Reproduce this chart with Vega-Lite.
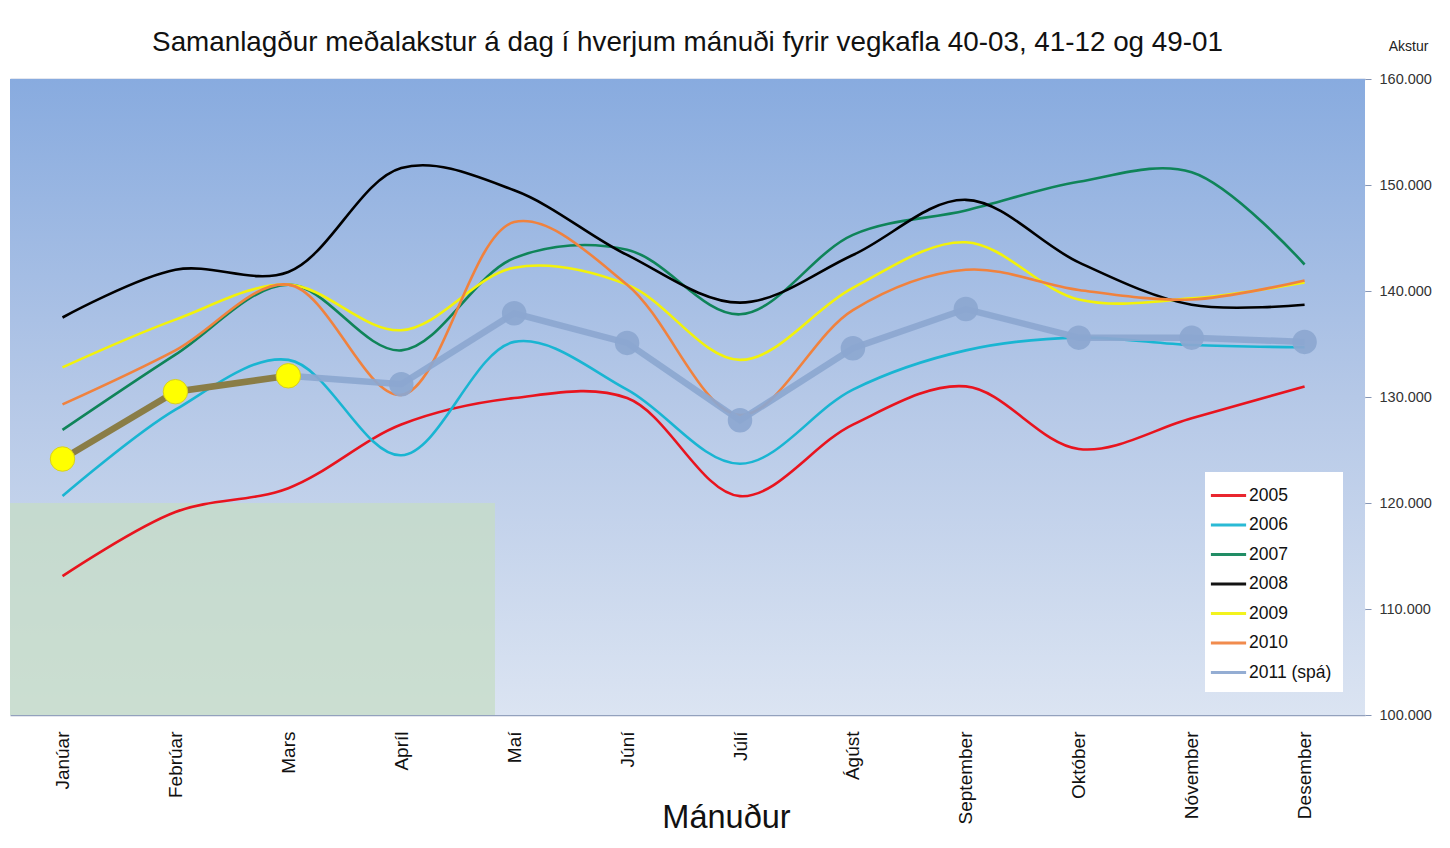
{
  "$schema": "https://vega.github.io/schema/vega-lite/v6.json",
  "width": 1355,
  "height": 636,
  "autosize": {"type": "none"},
  "padding": {"left": 10, "top": 79, "right": 85, "bottom": 133},
  "background": "white",
  "title": {
    "text": "Samanlagður meðalakstur á dag í hverjum mánuði fyrir vegkafla 40-03, 41-12 og 49-01",
    "fontSize": 27.8,
    "font": "Liberation Sans",
    "fontWeight": "normal",
    "color": "#111111",
    "anchor": "middle",
    "offset": -18
  },
  "config": {
    "view": {"stroke": null},
    "font": "Liberation Sans"
  },
  "datasets": {
    "bg": [{"lo": 100000, "hi": 160000}],
    "green": [{"x1": 0.535, "x2": 4.83, "lo": 100000, "hi": 120000}],
    "years": [
      {"m": 1, "s": "2005", "v": 113100}, {"m": 2, "s": "2005", "v": 119150}, {"m": 3, "s": "2005", "v": 121400},
      {"m": 4, "s": "2005", "v": 127400}, {"m": 5, "s": "2005", "v": 129900}, {"m": 6, "s": "2005", "v": 129900},
      {"m": 7, "s": "2005", "v": 120650}, {"m": 8, "s": "2005", "v": 127400}, {"m": 9, "s": "2005", "v": 131000},
      {"m": 10, "s": "2005", "v": 125100}, {"m": 11, "s": "2005", "v": 128000}, {"m": 12, "s": "2005", "v": 131000},
      {"m": 1, "s": "2006", "v": 120650}, {"m": 2, "s": "2006", "v": 128800}, {"m": 3, "s": "2006", "v": 133500},
      {"m": 4, "s": "2006", "v": 124500}, {"m": 5, "s": "2006", "v": 135200}, {"m": 6, "s": "2006", "v": 130700},
      {"m": 7, "s": "2006", "v": 123700}, {"m": 8, "s": "2006", "v": 130700}, {"m": 9, "s": "2006", "v": 134400},
      {"m": 10, "s": "2006", "v": 135600}, {"m": 11, "s": "2006", "v": 134900}, {"m": 12, "s": "2006", "v": 134700},
      {"m": 1, "s": "2007", "v": 126900}, {"m": 2, "s": "2007", "v": 134000}, {"m": 3, "s": "2007", "v": 140600},
      {"m": 4, "s": "2007", "v": 134400}, {"m": 5, "s": "2007", "v": 143100}, {"m": 6, "s": "2007", "v": 143900},
      {"m": 7, "s": "2007", "v": 137800}, {"m": 8, "s": "2007", "v": 145300}, {"m": 9, "s": "2007", "v": 147600},
      {"m": 10, "s": "2007", "v": 150300}, {"m": 11, "s": "2007", "v": 151200}, {"m": 12, "s": "2007", "v": 142500},
      {"m": 1, "s": "2008", "v": 137500}, {"m": 2, "s": "2008", "v": 142000}, {"m": 3, "s": "2008", "v": 141800},
      {"m": 4, "s": "2008", "v": 151600}, {"m": 5, "s": "2008", "v": 149500}, {"m": 6, "s": "2008", "v": 143400},
      {"m": 7, "s": "2008", "v": 138900}, {"m": 8, "s": "2008", "v": 143400}, {"m": 9, "s": "2008", "v": 148600},
      {"m": 10, "s": "2008", "v": 142700}, {"m": 11, "s": "2008", "v": 138700}, {"m": 12, "s": "2008", "v": 138700},
      {"m": 1, "s": "2009", "v": 132800}, {"m": 2, "s": "2009", "v": 137300}, {"m": 3, "s": "2009", "v": 140600},
      {"m": 4, "s": "2009", "v": 136300}, {"m": 5, "s": "2009", "v": 142200}, {"m": 6, "s": "2009", "v": 140600},
      {"m": 7, "s": "2009", "v": 133500}, {"m": 8, "s": "2009", "v": 140300}, {"m": 9, "s": "2009", "v": 144600},
      {"m": 10, "s": "2009", "v": 139200}, {"m": 11, "s": "2009", "v": 139300}, {"m": 12, "s": "2009", "v": 140800},
      {"m": 1, "s": "2010", "v": 129300}, {"m": 2, "s": "2010", "v": 134400}, {"m": 3, "s": "2010", "v": 140600},
      {"m": 4, "s": "2010", "v": 130200}, {"m": 5, "s": "2010", "v": 146500}, {"m": 6, "s": "2010", "v": 140600},
      {"m": 7, "s": "2010", "v": 128300}, {"m": 8, "s": "2010", "v": 138200}, {"m": 9, "s": "2010", "v": 142000},
      {"m": 10, "s": "2010", "v": 140100}, {"m": 11, "s": "2010", "v": 139200}, {"m": 12, "s": "2010", "v": 141000}
    ],
    "forecast": [
      {"m": 3, "s": "2011 (spá)", "v": 132000}, {"m": 4, "s": "2011 (spá)", "v": 131200},
      {"m": 5, "s": "2011 (spá)", "v": 137900}, {"m": 6, "s": "2011 (spá)", "v": 135100},
      {"m": 7, "s": "2011 (spá)", "v": 127800}, {"m": 8, "s": "2011 (spá)", "v": 134600},
      {"m": 9, "s": "2011 (spá)", "v": 138300}, {"m": 10, "s": "2011 (spá)", "v": 135600},
      {"m": 11, "s": "2011 (spá)", "v": 135600}, {"m": 12, "s": "2011 (spá)", "v": 135200}
    ],
    "actual": [
      {"m": 1, "v": 124150}, {"m": 2, "v": 130500}, {"m": 3, "v": 132000}
    ]
  },
  "layer": [
    {
      "data": {"name": "bg"},
      "mark": {
        "type": "rect",
        "color": {
          "gradient": "linear", "x1": 0, "y1": 0, "x2": 0, "y2": 1,
          "stops": [
            {"offset": 0, "color": "#88abdf"},
            {"offset": 0.5, "color": "#b5c8e7"},
            {"offset": 1, "color": "#dbe4f2"}
          ]
        }
      },
      "encoding": {
        "y": {"field": "lo", "type": "quantitative", "scale": {"domain": [100000, 160000], "nice": false, "zero": false},
          "axis": {
            "orient": "right",
            "values": [100000, 110000, 120000, 130000, 140000, 150000, 160000],
            "labelExpr": "replace(format(datum.value, ','), ',', '.')",
            "labelFontSize": 14.5,
            "labelColor": "#333333",
            "labelPadding": 8,
            "tickSize": 6,
            "tickColor": "#8595b5",
            "domain": false,
            "grid": true,
            "gridColor": "#7889ad",
            "gridWidth": 1.5,
            "gridOpacity": 0.8,
            "title": "Akstur",
            "titleFontSize": 14,
            "titleFontWeight": "normal",
            "titleColor": "#222222",
            "titleAngle": 0,
            "titleX": 43,
            "titleY": -33,
            "titleAlign": "center",
            "titleBaseline": "middle"
          }
        },
        "y2": {"field": "hi"}
      }
    },
    {
      "data": {"name": "green"},
      "mark": {"type": "rect", "color": "#c6dcc6", "opacity": 0.75},
      "encoding": {
        "x": {"field": "x1", "type": "quantitative"},
        "x2": {"field": "x2"},
        "y": {"field": "lo", "type": "quantitative"},
        "y2": {"field": "hi"}
      }
    },
    {
      "data": {"name": "years"},
      "mark": {"type": "line", "interpolate": "catmull-rom", "strokeWidth": 2.6},
      "encoding": {
        "x": {"field": "m", "type": "quantitative",
          "scale": {"domain": [0.535, 12.535], "nice": false, "zero": false},
          "axis": {
            "values": [1, 2, 3, 4, 5, 6, 7, 8, 9, 10, 11, 12],
            "labelExpr": "['Janúar','Febrúar','Mars','Apríl','Maí','Júní','Júlí','Ágúst','September','Október','Nóvember','Desember'][datum.value - 1]",
            "labelAngle": -90,
            "labelFontSize": 19,
            "labelColor": "#111111",
            "labelPadding": 16,
            "ticks": false,
            "domain": false,
            "grid": false,
            "title": "Mánuður",
            "titleFontSize": 32.5,
            "titleFontWeight": "normal",
            "titleColor": "#111111",
            "titleX": 716,
            "titleY": 112,
            "titleAlign": "center",
            "titleBaseline": "alphabetic"
          }
        },
        "y": {"field": "v", "type": "quantitative"},
        "color": {
          "field": "s", "type": "nominal",
          "scale": {
            "domain": ["2005", "2006", "2007", "2008", "2009", "2010", "2011 (spá)"],
            "range": ["#e8141e", "#19b5d2", "#0f8459", "#000000", "#f2f20a", "#f0823e", "#8ca7d0"]
          },
          "legend": {
            "title": null,
            "orient": "none",
            "legendX": 1195,
            "legendY": 393,
            "fillColor": "white",
            "padding": 11,
            "symbolType": "M-1.6,0H1.6",
            "symbolStrokeWidth": 3,
            "symbolSize": 484,
            "labelFontSize": 17.5,
            "labelColor": "#111111",
            "labelOffset": 8,
            "rowPadding": 8.5,
            "symbolOpacity": 1
          }
        }
      }
    },
    {
      "data": {"name": "forecast"},
      "mark": {"type": "line", "strokeWidth": 6.5, "opacity": 0.92},
      "encoding": {
        "x": {"field": "m", "type": "quantitative"},
        "y": {"field": "v", "type": "quantitative"},
        "color": {"field": "s", "type": "nominal"}
      }
    },
    {
      "data": {"name": "forecast"},
      "mark": {"type": "circle", "size": 600, "opacity": 0.92},
      "encoding": {
        "x": {"field": "m", "type": "quantitative"},
        "y": {"field": "v", "type": "quantitative"},
        "color": {"field": "s", "type": "nominal"}
      }
    },
    {
      "data": {"name": "actual"},
      "mark": {"type": "line", "strokeWidth": 6.5, "color": "#8a7d46"},
      "encoding": {
        "x": {"field": "m", "type": "quantitative"},
        "y": {"field": "v", "type": "quantitative"}
      }
    },
    {
      "data": {"name": "actual"},
      "mark": {"type": "circle", "size": 600, "color": "#ffff00", "opacity": 1, "stroke": "#d8d020", "strokeWidth": 1},
      "encoding": {
        "x": {"field": "m", "type": "quantitative"},
        "y": {"field": "v", "type": "quantitative"}
      }
    }
  ]
}
